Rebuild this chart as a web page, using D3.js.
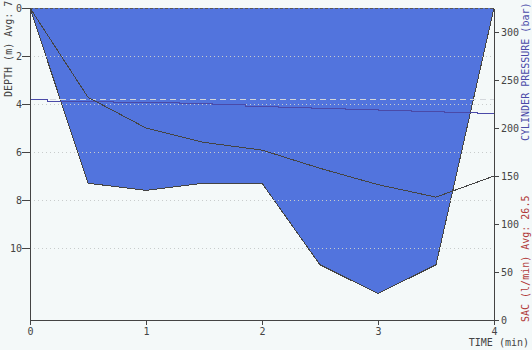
<!DOCTYPE html>
<html>
<head>
<meta charset="utf-8">
<script src="https://cdn.jsdelivr.net/npm/d3@7"></script>
<style>
  html, body { margin: 0; padding: 0; background: #f4f9f9; }
  svg { display: block; font-family: "DejaVu Sans Mono", monospace; font-size: 10px; }
  .axis path, .axis line { stroke: #444; shape-rendering: crispEdges; }
  .axis text { fill: #444; }
</style>
</head>
<body>
<script>
// depth profile (minutes, metres)
var depthTimes = [0, 0.5, 1, 1.5, 2, 2.5, 3, 3.5, 4];
var depthVals = [0, 7.3, 7.6, 7.3, 7.3, 10.7, 11.9, 10.7, 0];

// dark gray line on the pressure axis (bar)
var lineTimes = [0, 0.5, 1, 1.5, 2, 2.5, 3, 3.5, 4];
var lineVals = [325, 232, 200, 185, 177, 158, 141, 128, 150];

// cylinder pressure, stepped (bar)
var pressTimes = [0, 0.15, 0.43, 0.72, 1.01, 1.29, 1.57, 1.86, 2.14, 2.43, 2.72, 3.0, 3.29, 3.57, 3.86, 4];
var pressVals = [229.9, 228.4, 227.8, 227.3, 226.8, 226.0, 224.5, 222.9, 221.6, 220.5, 219.5, 218.4, 217.4, 216.7, 215.3, 215.3];

var refDepth = 3.8;
var timeTicks = [0, 1, 2, 3, 4];
var depthTicks = [0, 2, 4, 6, 8, 10];
var gridDepths = [2, 4, 6, 8, 10];
var barTicks = [0, 50, 100, 150, 200, 250, 300];

var width = 532, height = 350;

var x = d3.scaleLinear().domain([0, 4]).range([30, 494]);
var yDepth = d3.scaleLinear().domain([0, 13]).range([8, 320]);
var yBar = d3.scaleLinear().domain([0, 325]).range([320, 8]);

var svg = d3.select('body').append('svg')
  .attr('width', width)
  .attr('height', height);

svg.append('rect')
  .attr('width', width)
  .attr('height', height)
  .attr('fill', '#f4f9f9');

// depth area
var area = d3.area()
  .x(function(d, i) { return x(depthTimes[i]); })
  .y0(yDepth(0))
  .y1(function(d) { return yDepth(d); });

svg.append('path')
  .datum(depthVals)
  .attr('d', area)
  .attr('fill', '#5274dd')
  .attr('stroke', 'none');

svg.append('path')
  .datum(depthVals)
  .attr('d', d3.line().x(function(d, i) { return x(depthTimes[i]); }).y(function(d) { return yDepth(d); }))
  .attr('fill', 'none')
  .attr('stroke', '#444')
  .attr('shape-rendering', 'crispEdges');

// grid
svg.selectAll('.grid')
  .data(gridDepths)
  .enter()
  .append('line')
  .attr('class', 'grid')
  .attr('x1', x(0))
  .attr('x2', x(4))
  .attr('y1', function(d) { return Math.round(yDepth(d)) + 0.5; })
  .attr('y2', function(d) { return Math.round(yDepth(d)) + 0.5; })
  .attr('stroke', '#c8cccc')
  .attr('stroke-dasharray', '1,3');

// top dashed line at depth 0
svg.append('line')
  .attr('x1', x(0))
  .attr('x2', x(4))
  .attr('y1', yDepth(0) + 0.5)
  .attr('y2', yDepth(0) + 0.5)
  .attr('stroke', '#555')
  .attr('stroke-dasharray', '3,2');

// reference dashed line
svg.append('line')
  .attr('x1', x(0))
  .attr('x2', x(4))
  .attr('y1', Math.round(yDepth(refDepth)) + 0.5)
  .attr('y2', Math.round(yDepth(refDepth)) + 0.5)
  .attr('stroke', '#d4d8dc')
  .attr('stroke-dasharray', '6,4');

// cylinder pressure
svg.append('path')
  .datum(pressVals)
  .attr('d', d3.line()
    .curve(d3.curveStepAfter)
    .x(function(d, i) { return x(pressTimes[i]); })
    .y(function(d) { return Math.round(yBar(d)) + 0.5; }))
  .attr('fill', 'none')
  .attr('stroke', '#4a4aa8')
  .attr('shape-rendering', 'crispEdges');

// dark line
svg.append('path')
  .datum(lineVals)
  .attr('d', d3.line().x(function(d, i) { return x(lineTimes[i]); }).y(function(d) { return yBar(d); }))
  .attr('fill', 'none')
  .attr('stroke', '#444')
  .attr('shape-rendering', 'crispEdges');

// axes
svg.append('g')
  .attr('class', 'axis')
  .attr('transform', 'translate(' + x(0) + ',0)')
  .call(d3.axisLeft(yDepth).tickValues(depthTicks).tickFormat(d3.format('d')).tickSize(8).tickSizeOuter(0).tickPadding(0));

svg.append('g')
  .attr('class', 'axis')
  .attr('transform', 'translate(0,' + yDepth(13) + ')')
  .call(d3.axisBottom(x).tickValues(timeTicks).tickFormat(d3.format('d')).tickSize(5).tickSizeOuter(0).tickPadding(3));

svg.append('g')
  .attr('class', 'axis')
  .attr('transform', 'translate(' + x(4) + ',0)')
  .call(d3.axisRight(yBar).tickValues(barTicks).tickFormat(d3.format('d')).tickSize(5).tickSizeOuter(0).tickPadding(2));

svg.selectAll('.axis text').attr('font-size', 10).attr('font-family', '"DejaVu Sans Mono", monospace');

// titles
svg.append('text')
  .attr('transform', 'translate(12,97) rotate(-90)')
  .attr('fill', '#444')
  .text('DEPTH (m) Avg: 7');

svg.append('text')
  .attr('transform', 'translate(529,141) rotate(-90)')
  .attr('fill', '#4a4aa8')
  .text('CYLINDER PRESSURE (bar)');

svg.append('text')
  .attr('transform', 'translate(529,322) rotate(-90)')
  .attr('fill', '#b03838')
  .text('SAC (l/min) Avg: 26.5');

svg.append('text')
  .attr('x', 529)
  .attr('y', 346)
  .attr('text-anchor', 'end')
  .attr('fill', '#444')
  .text('TIME (min)');
</script>
</body>
</html>
